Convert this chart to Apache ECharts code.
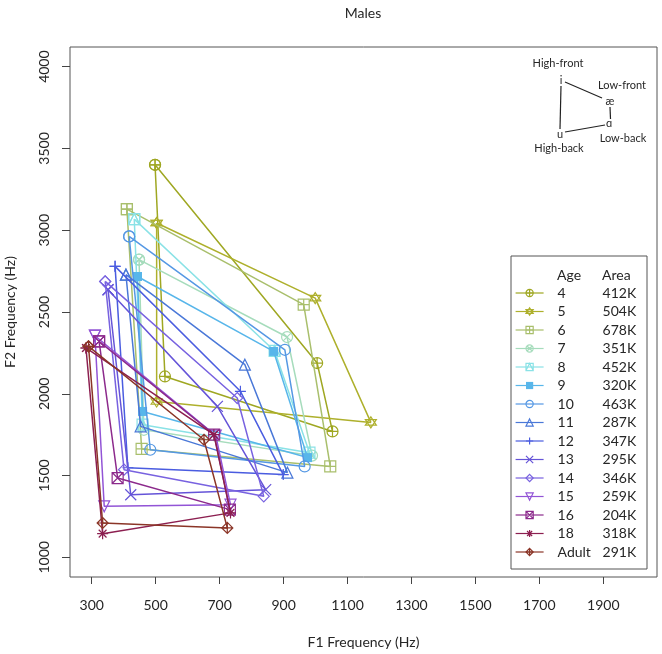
<!DOCTYPE html>
<html><head><meta charset="utf-8">
<script src="https://cdn.jsdelivr.net/npm/echarts@6/dist/echarts.min.js"></script>
<style>html,body{margin:0;padding:0;background:#fff}#c{width:662px;height:654px}</style>
</head><body><div id="c"></div>
<script>
// ---- data ----
const ages  = ['4','5','6','7','8','9','10','11','12','13','14','15','16','18','Adult'];
const areas = ['412K','504K','678K','351K','452K','320K','463K','287K','347K','295K','346K','259K','204K','318K','291K'];
// vowel i (high-front)
const F1_i  = [498,503,410,448,433,443,417,407,373,351,342,310,323,282,290];
const F2_i  = [3400,3044,3129,2820,3068,2717,2962,2728,2779,2636,2687,2355,2320,2280,2290];
// vowel ae (low-front)
const F1_ae = [1005,999,963,911,872,869,904,779,765,693,755,688,683,682,651];
const F2_ae = [2188,2585,2545,2347,2262,2259,2269,2178,2015,1923,1974,1744,1750,1750,1719];
// vowel a (low-back)
const F1_a  = [1053,1173,1046,989,981,975,966,912,899,844,838,734,732,734,724];
const F2_a  = [1770,1825,1556,1622,1640,1610,1556,1518,1506,1414,1373,1322,1292,1272,1180];
// vowel u (high-back)
const F1_u  = [529,503,456,463,459,459,483,453,413,422,401,339,381,334,334];
const F2_u  = [2106,1953,1663,1780,1811,1892,1658,1801,1548,1383,1536,1312,1485,1145,1210];
const xTicks = [300,500,700,900,1100,1300,1500,1700,1900];
const yTicks = [1000,1500,2000,2500,3000,3500,4000];

// ---- styles ----
const colors = ['#9fa722','#aeb02c','#a9bf6c','#a6dcbc','#8ae2e6','#58b6ea','#5598e4','#4a78d8','#4a5ce0','#6554d8','#7862e0','#9254d6','#8c2a8c','#8c1f50','#8b3527'];
const sq='M0,0 L20,0 L20,20 L0,20 Z', circ='M20,10 A10,10 0 1,1 0,10 A10,10 0 1,1 20,10 Z',
      plus='M10,0 L10,20 M0,10 L20,10', cross='M0,0 L20,20 M20,0 L0,20',
      dia='M10,0 L20,10 L10,20 L0,10 Z', xs='M2.93,2.93 L17.07,17.07 M17.07,2.93 L2.93,17.07';
const symbols = [
  'path://'+circ+' '+plus,
  'path://M10,0 L20,15 L0,15 Z M0,5 L20,5 L10,20 Z',
  'path://'+sq+' '+plus,
  'path://'+circ+' '+xs,
  'path://'+sq+' M0,20 L10,0 L20,20',
  'rect',
  'path://'+circ,
  'path://M10,0 L20,18 L0,18 Z',
  'path://'+plus,
  'path://'+cross,
  'path://'+dia,
  'path://M0,0 L20,0 L10,18 Z',
  'path://'+sq+' '+cross,
  'path://'+plus+' '+xs,
  'path://'+dia+' '+plus
];
const filled = [false,false,false,false,false,true,false,false,false,false,false,false,false,false,false];
const markStyle = k => filled[k] ? {color:colors[k], borderWidth:0}
                                 : {color:'rgba(255,255,255,0)', borderColor:colors[k], borderWidth:1.2};

const series = ages.map((a,k)=>({
  name: a, type:'line', symbol: symbols[k], symbolSize: filled[k]?9:11,
  data: [[F1_i[k],F2_i[k]],[F1_ae[k],F2_ae[k]],[F1_a[k],F2_a[k]],[F1_u[k],F2_u[k]],[F1_i[k],F2_i[k]]],
  lineStyle:{color:colors[k], width:1.5},
  itemStyle: markStyle(k),
  emphasis:{disabled:true}, animation:false, z: 2+k
}));
const areaOf = {}; ages.forEach((a,k)=>areaOf[a]=areas[k]);
const FONT = 'Lato, "Open Sans", sans-serif';
const txt = '#262626';

const chart = echarts.init(document.getElementById('c'), null, {renderer:'canvas'});
chart.setOption({
  animation:false,
  title:{text:'Males', left:363, top:6, padding:0, textAlign:'center', textStyle:{fontFamily:FONT, fontSize:14, fontWeight:'normal', color:txt}},
  grid:{left:70, top:47, width:587, height:530, show:true, borderColor:'#555', borderWidth:1, backgroundColor:'rgba(0,0,0,0)', containLabel:false, outerBoundsMode:'none'},
  xAxis:{type:'value', min:232, max:2068, splitLine:{show:false},
    axisLine:{show:false},
    axisTick:{show:true, customValues:xTicks, length:7, lineStyle:{color:'#444'}},
    axisLabel:{customValues:xTicks, margin:21, fontFamily:FONT, fontSize:14, color:txt, formatter: v => String(v)},
    name:'F1 Frequency (Hz)', nameLocation:'middle', nameGap:58, nameTextStyle:{fontFamily:FONT, fontSize:14, color:txt}},
  yAxis:{type:'value', min:880, max:4120, splitLine:{show:false},
    axisLine:{show:false},
    axisTick:{show:true, customValues:yTicks, length:8, lineStyle:{color:'#444'}},
    axisLabel:{customValues:yTicks, rotate:90, margin:19, fontFamily:FONT, fontSize:14, color:txt, formatter: v => String(v)},
    name:'F2 Frequency (Hz)', nameLocation:'middle', nameGap:53, nameTextStyle:{fontFamily:FONT, fontSize:14, color:txt}},
  legend:{data: ages.map((a,k)=>({name:a, itemStyle: markStyle(k), lineStyle:{color:colors[k], width:1.2}})),
    orient:'vertical', left:515, top:286, itemWidth:28, itemHeight:9, itemGap:4.5,
    selectedMode:false, padding:0,
    formatter: n => '{a|'+n+'}{b|'+areaOf[n]+'}',
    textStyle:{fontFamily:FONT, fontSize:14, lineHeight:14, color:txt, padding:[0,0,0,9],
      rich:{a:{width:45, fontFamily:FONT, fontSize:14, lineHeight:14, color:txt}, b:{fontFamily:FONT, fontSize:14, lineHeight:14, color:txt}}}},
  graphic:[
    {type:'rect', shape:{x:511, y:256, width:136, height:313}, style:{fill:'none', stroke:'#555', lineWidth:1}, z:1},
    {type:'text', x:557, y:275, style:{text:'Age', fontFamily:FONT, fontSize:14, fill:txt, textVerticalAlign:'middle'}},
    {type:'text', x:602, y:275, style:{text:'Area', fontFamily:FONT, fontSize:14, fill:txt, textVerticalAlign:'middle'}},
    // vowel quadrilateral key
    {type:'text', x:558, y:63, style:{text:'High-front', fontFamily:FONT, fontSize:11, fill:txt, textAlign:'center', textVerticalAlign:'middle'}},
    {type:'text', x:561, y:80, style:{text:'i', fontFamily:FONT, fontSize:11, fill:txt, textAlign:'center', textVerticalAlign:'middle'}},
    {type:'text', x:622, y:85, style:{text:'Low-front', fontFamily:FONT, fontSize:11, fill:txt, textAlign:'center', textVerticalAlign:'middle'}},
    {type:'text', x:610, y:101, style:{text:'æ', fontFamily:FONT, fontSize:11, fill:txt, textAlign:'center', textVerticalAlign:'middle'}},
    {type:'text', x:609, y:123, style:{text:'ɑ', fontFamily:FONT, fontSize:11, fill:txt, textAlign:'center', textVerticalAlign:'middle'}},
    {type:'text', x:623, y:138, style:{text:'Low-back', fontFamily:FONT, fontSize:11, fill:txt, textAlign:'center', textVerticalAlign:'middle'}},
    {type:'text', x:560, y:134, style:{text:'u', fontFamily:FONT, fontSize:11, fill:txt, textAlign:'center', textVerticalAlign:'middle'}},
    {type:'text', x:559, y:148, style:{text:'High-back', fontFamily:FONT, fontSize:11, fill:txt, textAlign:'center', textVerticalAlign:'middle'}},
    {type:'polyline', shape:{points:[[565,82],[602,98]]}, style:{stroke:'#222', lineWidth:1.2, fill:null}},
    {type:'polyline', shape:{points:[[610,107],[610.5,119]]}, style:{stroke:'#222', lineWidth:1.2, fill:null}},
    {type:'polyline', shape:{points:[[605,125],[565,132]]}, style:{stroke:'#222', lineWidth:1.2, fill:null}},
    {type:'polyline', shape:{points:[[561,86],[560,129]]}, style:{stroke:'#222', lineWidth:1.2, fill:null}}
  ],
  series: series
});
</script></body></html>
